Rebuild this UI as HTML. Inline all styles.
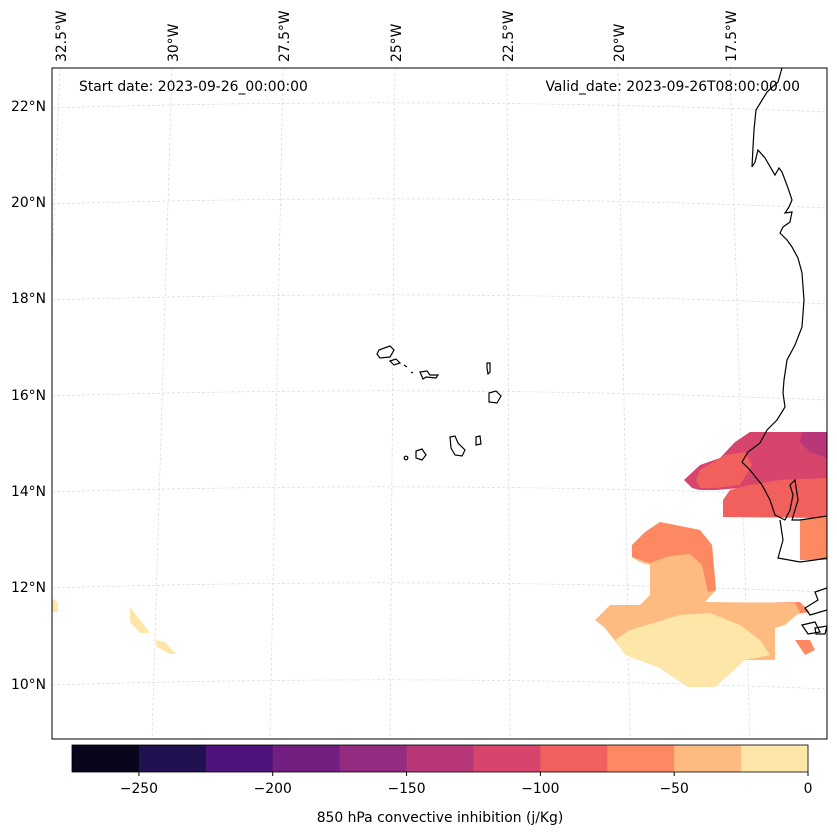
<!DOCTYPE html>
<html><head><meta charset="utf-8"><style>
html,body{margin:0;padding:0;background:#fff;}
svg{display:block;font-family:"DejaVu Sans","Liberation Sans",sans-serif;}
</style></head><body>
<svg id="chart" width="837" height="836" viewBox="0 0 837 836">
<defs><clipPath id="mapclip"><rect x="52" y="68" width="775" height="671"/></clipPath></defs>
<rect x="0" y="0" width="837" height="836" fill="#fff"/>
<g id="grid" clip-path="url(#mapclip)" stroke="#d4d4d4" stroke-width="0.6" stroke-dasharray="3,2" fill="none">
  <path d="M60,68 L33,739"/><path d="M172,68 L152,739"/><path d="M283,68 L270,739"/><path d="M395,68 L390,739"/>
  <path d="M507,68 L510,739"/><path d="M618,68 L630,739"/><path d="M730,68 L750,739"/>
  <path d="M52,108 Q440,96 827,112"/><path d="M52,204 Q440,192 827,208"/><path d="M52,300 Q440,288 827,304"/>
  <path d="M52,396 Q440,384 827,400"/><path d="M52,492 Q440,480 827,496"/><path d="M52,588 Q440,576 827,592"/><path d="M52,685 Q440,673 827,689"/>
</g>
<g id="fills" clip-path="url(#mapclip)" stroke="none">
  <polygon fill="#d8456c" points="684,480 700,465 720,458 735,442 750,432 827,432 827,505 760,505 740,488 716,490 700,490 692,488"/>
  <polygon fill="#b73779" points="802,432 827,432 827,458 810,452 800,442"/>
  <polygon fill="#f1605d" points="696,480 700,470 725,455 745,452 752,465 740,485 715,488 700,488"/>
  <polygon fill="#f1605d" points="723,517 723,500 730,490 745,486 780,480 827,478 827,518"/>
  <polygon fill="#fc8961" points="800,520 827,515 827,560 800,560"/>
  <polygon fill="#fc8961" points="750,603 800,602 810,612 790,615 760,610"/>
  <polygon fill="#febb81" points="595,620 610,605 640,605 650,595 650,565 640,562 632,557 632,545 660,522 700,530 712,545 716,590 705,602 795,603 800,612 785,625 775,628 775,660 745,660 715,687 688,687 660,668 622,650 605,628"/>
  <polygon fill="#fc8961" points="632,545 645,532 660,522 700,530 712,545 716,590 708,592 702,565 690,554 670,556 650,563 632,557"/>
  <polygon fill="#fde7a8" points="615,640 630,630 680,615 710,613 740,625 760,640 770,655 745,660 715,687 688,687 660,668 625,655"/>
  <polygon fill="#fc8961" points="795,640 810,640 815,650 805,655"/>
  <polygon fill="#fde7a8" points="52,598 58,603 58,612 52,612"/>
  <polygon fill="#fde7a8" points="130,607 140,620 150,633 140,633 130,622"/>
  <polygon fill="#fde7a8" points="155,640 165,642 176,654 170,654 157,647"/>
</g>
<g id="coast" clip-path="url(#mapclip)" fill="none" stroke="#000" stroke-width="1.2">
  <path d="M782,68 L778,82 L767,92 L756,110 L754,130 L753,147 L752,167 L755,162 L758,150 L765,158 L775,175 L779,168 L782,172 L788,188 L792,200 L789,207 L785,213 L792,212 L790,222 L783,227 L780,233 L787,240 L792,247 L798,258 L802,273 L804,300 L802,327 L795,345 L787,360 L784,380 L783,393 L785,407 L777,420 L767,430 L760,443 L748,452 L742,462 L750,470 L762,485 L770,500 L775,515 L785,520 L790,510 L793,495 L790,485 L795,480 L798,500 L792,520 L800,520 L827,516"/>
  <path d="M780,520 L783,540 L778,558 L800,562 L815,560 L827,558"/>
  <path d="M827,588 L815,592 L818,600 L805,608 L810,615 L827,610"/>
  <path d="M802,625 L815,622 L820,632 L808,634 Z M815,628 L827,626 L825,634 L816,634 Z"/>
</g>
<g id="islands" fill="none" stroke="#000" stroke-width="1.2">
  <path d="M379,350 L390,346 L394,350 L390,357 L380,358 L377,354 Z"/>
  <path d="M390,361 L396,359 L400,363 L394,365 Z"/>
  <path d="M404,365 L407,367"/><path d="M411,372 L413,373"/>
  <path d="M420,372 L427,371 L430,375 L438,375 L436,378 L426,377 L423,379 Z"/>
  <path d="M487,363 L490,363 L490,372 L488,374 L487,368 Z"/>
  <path d="M489,393 L496,391 L501,396 L497,403 L489,402 Z"/>
  <path d="M450,437 L455,436 L458,443 L465,450 L462,456 L455,455 L451,448 Z"/>
  <path d="M476,437 L480,436 L481,444 L476,445 Z"/>
  <path d="M416,451 L422,449 L426,455 L422,460 L416,458 Z"/>
  <circle cx="406" cy="458" r="1.8"/>
</g>
<rect x="52" y="68" width="775" height="671" fill="none" stroke="#000" stroke-width="1"/>
<text x="79" y="91" font-size="13.9">Start date: 2023-09-26_00:00:00</text>
<text x="800" y="91" font-size="13.9" text-anchor="end">Valid_date: 2023-09-26T08:00:00.00</text>
<g id="lonlabels" font-size="13.9"></g>
<g id="latlabels" font-size="13.9" text-anchor="end"></g>
<g id="colorbar"></g>
<text x="440" y="822" font-size="13.9" text-anchor="middle">850 hPa convective inhibition (j/Kg)</text>
</svg>
<script>
const cbLevels = [-275,-250,-225,-200,-175,-150,-125,-100,-75,-50,-25,0];
const cbColors = ["#07061c","#221150","#4f127b","#721f81","#932b80","#b73779","#d8456c","#f1605d","#fc8961","#febb81","#fde7a8"];
const cbTicks = [-250,-200,-150,-100,-50,0];
const lonLabels = ["32.5°W","30°W","27.5°W","25°W","22.5°W","20°W","17.5°W"];
const lonLabelX = [66,178,289,401,513,624,736];
const latLabels = ["22°N","20°N","18°N","16°N","14°N","12°N","10°N"];
const latLabelY = [106,202,298,395,491,587,684];
const NS="http://www.w3.org/2000/svg";
function mk(tag,attrs,parent){const e=document.createElementNS(NS,tag);for(const k in attrs)e.setAttribute(k,attrs[k]);parent.appendChild(e);return e;}
const cb=document.getElementById('colorbar');
const cx0=72,cx1=808,cy0=745,cy1=772;
const cbx=v=>cx0+(v-cbLevels[0])/(cbLevels[cbLevels.length-1]-cbLevels[0])*(cx1-cx0);
for(let i=0;i<cbColors.length;i++){
  const r=mk('rect',{x:cbx(cbLevels[i]),y:cy0,width:cbx(cbLevels[i+1])-cbx(cbLevels[i])+0.5,height:cy1-cy0,fill:cbColors[i]},cb);
  
  
}
const fr=mk('rect',{x:cx0,y:cy0,width:cx1-cx0,height:cy1-cy0,fill:'none',stroke:'#000','stroke-width':0.8},cb);


cbTicks.forEach(t=>{
  const x=cbx(t);
  const l=mk('line',{x1:x,x2:x,y1:cy1,y2:cy1+4,stroke:'#000'},cb);
  
  
  const tx=mk('text',{x:x,y:793,'font-size':13.9,'text-anchor':'middle'},cb);
  tx.textContent=t<0?'\u2212'+Math.abs(t):String(t);
  
  
});
const lg=document.getElementById('lonlabels');
lonLabels.forEach((s,i)=>{
  const t=mk('text',{x:lonLabelX[i],y:62,transform:`rotate(-90 ${lonLabelX[i]} 62)`},lg);
  t.textContent=s;
  
  
});
const la=document.getElementById('latlabels');
latLabels.forEach((s,i)=>{
  const t=mk('text',{x:46,y:latLabelY[i]+5},la);
  t.textContent=s;
  
  
});
</script>
</body></html>
